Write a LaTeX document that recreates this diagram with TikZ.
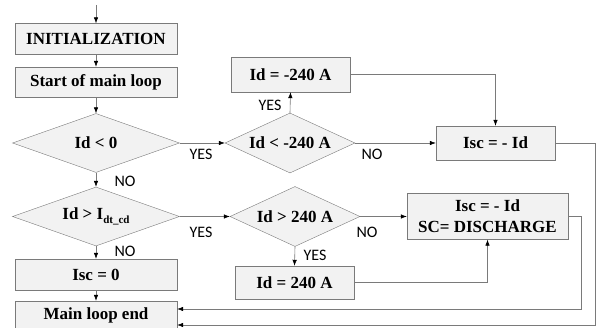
\documentclass[tikz,border=0pt]{standalone}
\usepackage{fontspec}
\setmainfont{Liberation Serif}
\newfontfamily\answerfont{Carlito}
\usetikzlibrary{shapes.geometric,arrows.meta}
\definecolor{linegray}{HTML}{7A7A7A}
\definecolor{boxgray}{HTML}{F2F2F2}

\begin{document}
\begin{tikzpicture}
	[
		x = 1pt, y = -1pt,
		block/.style = {draw=linegray, fill=boxgray, inner sep=0pt, align=center,
			font=\fontsize{17}{21}\selectfont\bfseries},
		decision/.style = {diamond, aspect=3, draw=linegray, fill=boxgray, inner sep=0pt,
			font=\fontsize{17}{21}\selectfont\bfseries},
		answer/.style = {inner sep=0pt, font=\answerfont\fontsize{16}{18}\selectfont},
		flow/.style = {draw=linegray, semithick, -{Latex[length=6pt,width=4.5pt,color=black]}}
	]

	\useasboundingbox (0,0) rectangle (598,328);

	% main column
	\coordinate (entry) at (96,5);
	\node[block, minimum width=162pt, minimum height=31pt] (init) at (96,39) {INITIALIZATION};
	\node[block, minimum width=162pt, minimum height=30pt] (start) at (96,82) {Start of main loop};
	\node[decision, minimum width=167pt, minimum height=59pt] (dneg) at (96,143) {Id < 0};
	\node[decision, minimum width=167pt, minimum height=59pt] (ddt) at (96,216.5)
		{Id > I\raisebox{-0.45ex}{\fontsize{11}{11}\selectfont dt\_cd}};
	\node[block, minimum width=162pt, minimum height=31pt] (isczero) at (96,274.5) {Isc = 0};
	\node[block, minimum width=162pt, minimum height=28pt] (loopend) at (96,315) {Main loop end};

	% negative branch
	\node[decision, minimum width=130pt, minimum height=60pt] (dlow) at (290,143) {Id < -240 A};
	\node[block, minimum width=119pt, minimum height=35pt] (setlow) at (290.5,74.5) {Id = -240 A};
	\node[block, minimum width=119pt, minimum height=34pt] (iscneg) at (495.5,143) {Isc = - Id};

	% positive branch
	\node[decision, minimum width=130pt, minimum height=60pt] (dhigh) at (295,216.5) {Id > 240 A};
	\node[block, minimum width=119pt, minimum height=33pt] (sethigh) at (294.5,282.5) {Id = 240 A};
	\node[block, minimum width=161pt, minimum height=46pt] (iscdis) at (487.5,216.5)
		{Isc = - Id\\SC= DISCHARGE};

	% connectors
	\draw[flow] (entry) -- (init);
	\draw[flow] (init) -- (start);
	\draw[flow] (start) -- (dneg);
	\draw[flow] (dneg) -- (ddt);
	\draw[flow] (ddt) -- (isczero);
	\draw[flow] (isczero) -- (loopend);
	\draw[flow] (dneg.east) -- (dlow.west);
	\draw[flow] (dlow.north) -- (setlow.south);
	\draw[flow] (dlow.east) -- (iscneg.west);
	\draw[flow] (setlow.east) -| (iscneg.north);
	\draw[flow] (ddt.east) -- (dhigh.west);
	\draw[flow] (dhigh.east) -- (iscdis.west);
	\draw[flow] (dhigh.south) -- (sethigh.north);
	\draw[flow] (sethigh.east) -| (iscdis.south);
	\draw[flow] (iscdis.east) -- ++(13,0) |- ([yshift=6pt]loopend.east);
	\draw[flow] (iscneg.east) -- ++(40,0) |- ([yshift=-10pt]loopend.east);

	% answers
	\node[answer] (yesneg) at (201,154) {YES};
	\node[answer] (noneg) at (125,181) {NO};
	\node[answer] (yeslow) at (270,105) {YES};
	\node[answer] (nolow) at (372,154) {NO};
	\node[answer] (yesdt) at (201,232) {YES};
	\node[answer] (nodt) at (125,251) {NO};
	\node[answer] (nohigh) at (367,232) {NO};
	\node[answer] (yeshigh) at (315,255) {YES};
\end{tikzpicture}
\end{document}
